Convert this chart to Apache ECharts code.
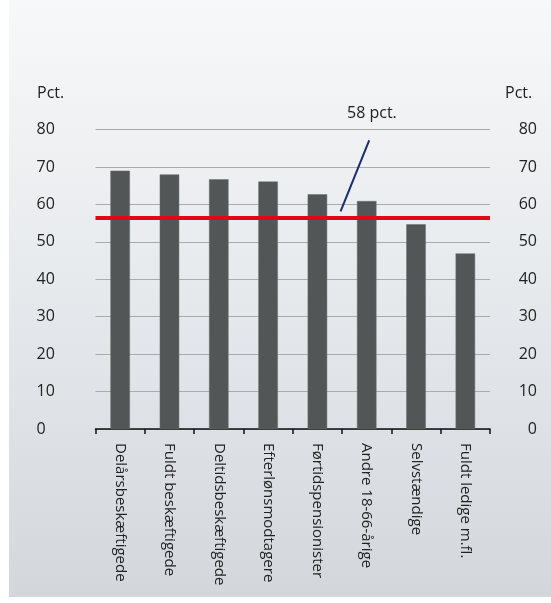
<!DOCTYPE html>
<html>
<head>
<meta charset="utf-8">
<script src="https://cdn.jsdelivr.net/npm/echarts@6/dist/echarts.min.js"></script>
<style>
html,body{margin:0;padding:0;background:#ffffff;}
#c{width:551px;height:603px;}
</style>
</head>
<body>
<div id="c"></div>
<script>
const categories = ['Delårsbeskæftigede','Fuldt beskæftigede','Deltidsbeskæftigede','Efterlønsmodtagere','Førtidspensionister','Andre 18-66-årige','Selvstændige','Fuldt ledige m.fl.'];
const values = [69, 68, 66.7, 66.1, 62.7, 60.9, 54.7, 46.9];
const averageValue = 56.5;
const averageLabel = '58 pct.';
const pointerX = [5.55, 4.97];
const pointerY = [77.1, 58.1];
const yTicks = { min: 0, max: 80, interval: 10 };
const unitLabel = 'Pct.';

const FONT = '"Open Sans", "Noto Sans", sans-serif';
const chart = echarts.init(document.getElementById('c'), null, {renderer: 'canvas'});

const gridBox = {left: 95.5, right: 61, top: 129.5, bottom: 174};

chart.setOption({
  animation: false,
  backgroundColor: '#ffffff',
  graphic: [
    {type: 'rect', z: -10, silent: true, shape: {x: 9, y: 0, width: 542, height: 597},
     style: {fill: new echarts.graphic.LinearGradient(0, 0, 0, 1, [
       {offset: 0, color: '#f7f8f9'}, {offset: 0.5, color: '#e6e9ec'}, {offset: 1, color: '#d3d7dc'}])}},
    {type: 'text', left: 37, top: 85, style: {text: unitLabel, font: '16px ' + FONT, fill: '#222'}},
    {type: 'text', left: 505, top: 85, style: {text: unitLabel, font: '16px ' + FONT, fill: '#222'}},
    {type: 'text', left: 347, top: 105, style: {text: averageLabel, font: '16px ' + FONT, fill: '#222'}}
  ],
  grid: gridBox,
  xAxis: [
    {
      type: 'category', data: categories,
      axisLine: {show: true, lineStyle: {color: '#111', width: 1.5}},
      axisTick: {show: true, length: 5, lineStyle: {color: '#111', width: 1.5}},
      axisLabel: {rotate: -90, margin: 14, fontSize: 15, fontFamily: FONT, color: '#222'}
    },
    {
      type: 'value', min: 0, max: 8, show: false, position: 'bottom'
    }
  ],
  yAxis: [
    {
      type: 'value', min: yTicks.min, max: yTicks.max, interval: yTicks.interval,
      axisLine: {show: false}, axisTick: {show: false},
      axisLabel: {align: 'left', margin: 59, fontSize: 16, fontFamily: FONT, color: '#222'},
      splitLine: {show: true, lineStyle: {color: '#a9abad', width: 1.2}}
    },
    {
      type: 'value', min: yTicks.min, max: yTicks.max, interval: yTicks.interval, position: 'right',
      axisLine: {show: false}, axisTick: {show: false},
      axisLabel: {align: 'right', margin: 47, fontSize: 16, fontFamily: FONT, color: '#222'},
      splitLine: {show: false}
    }
  ],
  series: [
    {
      type: 'bar', data: values, barWidth: 19.5, xAxisIndex: 0, yAxisIndex: 0,
      itemStyle: {color: '#525657', borderColor: '#6a6e6f', borderWidth: 0.5},
      markLine: {
        silent: true, symbol: ['none', 'none'], label: {show: false},
        lineStyle: {color: '#e30613', width: 3.8, type: 'solid'},
        data: [{yAxis: averageValue}]
      },
      z: 2
    },
    {
      type: 'line', xAxisIndex: 1, yAxisIndex: 0,
      data: pointerX.map((x, i) => [x, pointerY[i]]),
      symbol: 'none', lineStyle: {color: '#1b2b6e', width: 2}, z: 5
    }
  ]
});
</script>
</body>
</html>
